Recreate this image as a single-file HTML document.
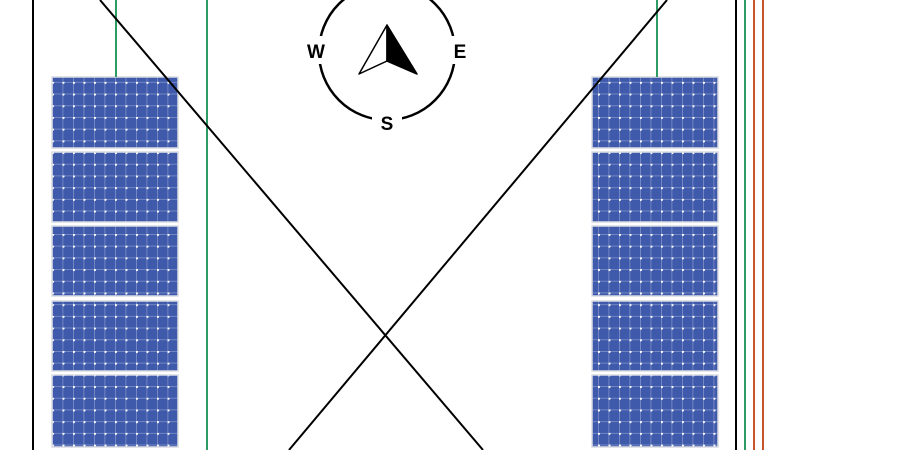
<!DOCTYPE html>
<html><head><meta charset="utf-8"><style>body{margin:0;background:#fff}svg{display:block}</style></head>
<body>
<svg width="900" height="450" viewBox="0 0 900 450" xmlns="http://www.w3.org/2000/svg">
<defs>
<pattern id="cell" x="52" y="0" width="10.5" height="11.7" patternUnits="userSpaceOnUse">
<rect width="10.5" height="11.7" fill="#3f5aab"/>
<rect x="0" y="0" width="10.5" height="0.8" fill="#7d90c8"/>
<rect x="0" y="0" width="0.8" height="11.7" fill="#7d90c8"/>
<circle cx="0.5" cy="0.5" r="1.6" fill="#fff"/>
</pattern>
</defs>
<line x1="33" y1="0" x2="33" y2="450" stroke="#000" stroke-width="2"/>
<g fill="#3f5aab" stroke="#d8dbe4" stroke-width="1.5">
<rect x="52" y="77" width="126" height="71" fill="url(#cell)"/>
<rect x="52" y="152" width="126" height="70" fill="url(#cell)"/>
<rect x="52" y="226" width="126" height="70" fill="url(#cell)"/>
<rect x="52" y="301" width="126" height="70" fill="url(#cell)"/>
<rect x="52" y="375" width="126" height="72" fill="url(#cell)"/>
<rect x="592" y="77" width="126" height="71" fill="url(#cell)"/>
<rect x="592" y="152" width="126" height="70" fill="url(#cell)"/>
<rect x="592" y="226" width="126" height="70" fill="url(#cell)"/>
<rect x="592" y="301" width="126" height="70" fill="url(#cell)"/>
<rect x="592" y="375" width="126" height="72" fill="url(#cell)"/>
</g>
<g stroke="#2e9a64" stroke-width="2">
<line x1="116" y1="0" x2="116" y2="77"/>
<line x1="207" y1="0" x2="207" y2="450"/>
<line x1="657" y1="0" x2="657" y2="77"/>
<line x1="745" y1="0" x2="745" y2="450"/>
</g>
<g stroke="#000" stroke-width="2">
<line x1="100" y1="0" x2="483" y2="450"/>
<line x1="667" y1="0" x2="289" y2="450"/>
<line x1="736" y1="0" x2="736" y2="450"/>
</g>
<g stroke="#c8552a" stroke-width="2">
<line x1="754" y1="0" x2="754" y2="450"/>
<line x1="763" y1="0" x2="763" y2="450"/>
</g>
<circle cx="387" cy="52" r="68" fill="none" stroke="#000" stroke-width="2.5"/>
<rect x="303" y="36" width="28" height="28" fill="#fff"/>
<rect x="445" y="36" width="28" height="28" fill="#fff"/>
<rect x="372" y="108" width="30" height="24" fill="#fff"/>
<g font-family="Liberation Sans, sans-serif" font-weight="bold" font-size="19" text-anchor="middle">
<text x="316" y="58">W</text>
<text x="460" y="58">E</text>
<text x="387" y="130">S</text>
</g>
<polygon points="387,25 359,74 387,61" fill="#fff" stroke="#000" stroke-width="1.5" stroke-linejoin="round"/>
<polygon points="387,25 417,74 387,61" fill="#000" stroke="#000" stroke-width="1.5" stroke-linejoin="round"/>
</svg>
</body></html>
